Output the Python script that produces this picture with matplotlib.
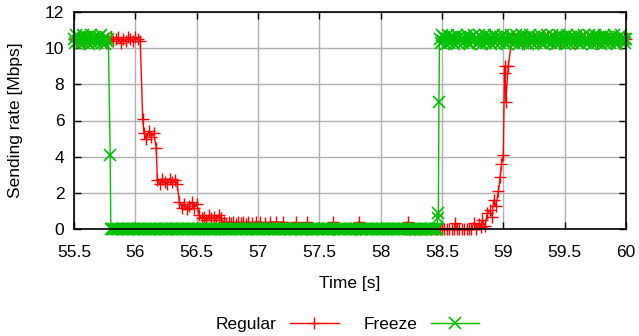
"""Sending rate over time: regular vs freeze."""

import matplotlib as mpl
from matplotlib import pyplot as plt

mpl.use("Agg")

# Regular sender (red)
reg_time = [
    55.50, 55.52, 55.54, 55.56, 55.58, 55.60, 55.62, 55.64, 55.66, 55.68,
    55.70, 55.72, 55.74, 55.76, 55.78, 55.80, 55.82, 55.84, 55.86, 55.88,
    55.90, 55.92, 55.94, 55.96, 55.98, 56.00, 56.02, 56.04,
    56.06, 56.07, 56.09, 56.11, 56.13, 56.15, 56.17,
    56.18, 56.20, 56.22, 56.24, 56.26, 56.28, 56.30, 56.32, 56.34,
    56.36, 56.38, 56.40, 56.42, 56.44, 56.46, 56.48, 56.50,
    56.52, 56.54, 56.56, 56.58, 56.60, 56.62, 56.64, 56.66, 56.68, 56.70,
    56.72, 56.74, 56.76, 56.78, 56.80, 56.82, 56.84, 56.86, 56.88, 56.90,
    56.92, 56.95, 56.98, 57.02, 57.06, 57.10, 57.15, 57.20,
    57.21, 57.30, 57.31, 57.32, 57.39, 57.40, 57.41, 57.60, 57.61, 57.62,
    57.81, 57.82, 57.83, 58.21, 58.22, 58.23,
    58.24, 58.26, 58.28, 58.30, 58.32, 58.34, 58.36, 58.38, 58.40, 58.42,
    58.44, 58.46, 58.48, 58.50, 58.52, 58.54, 58.56, 58.58, 58.60, 58.61,
    58.62, 58.64, 58.66, 58.68, 58.70, 58.72, 58.74, 58.76, 58.78, 58.80,
    58.82, 58.83, 58.85, 58.87, 58.89, 58.91, 58.92, 58.94, 58.96,
    58.975, 58.985, 59.00, 59.01, 59.015, 59.02, 59.04, 59.07,
    59.08, 59.10, 59.12, 59.14, 59.16, 59.18, 59.20, 59.22, 59.24, 59.26,
    59.28, 59.30, 59.32, 59.34, 59.36, 59.38, 59.40, 59.42, 59.44, 59.46,
    59.48, 59.50, 59.52, 59.54, 59.56, 59.58, 59.60, 59.62, 59.64, 59.66,
    59.68, 59.70, 59.72, 59.74, 59.76, 59.78, 59.80, 59.82, 59.84, 59.86,
    59.88, 59.90, 59.92, 59.94, 59.96, 59.98, 60.00,
]
reg_rate = [
    10.5, 10.4, 10.6, 10.5, 10.3, 10.6, 10.5, 10.4, 10.6, 10.5,
    10.4, 10.6, 10.5, 10.3, 10.5, 10.6, 10.4, 10.5, 10.6, 10.3,
    10.5, 10.4, 10.6, 10.5, 10.4, 10.6, 10.5, 10.4,
    6.1, 5.3, 5.0, 5.4, 5.1, 5.3, 4.5,
    2.7, 2.5, 2.8, 2.6, 2.5, 2.8, 2.6, 2.7, 2.5,
    1.5, 1.2, 1.4, 1.1, 1.3, 1.5, 1.2, 1.4,
    0.8, 0.6, 0.7, 0.5, 0.8, 0.6, 0.7, 0.5, 0.8, 0.6,
    0.4, 0.3, 0.4, 0.35, 0.4, 0.3, 0.4, 0.35, 0.4, 0.3,
    0.4, 0.35, 0.4, 0.4, 0.35, 0.4, 0.4, 0.4,
    0.0, 0.0, 0.4, 0.0, 0.0, 0.4, 0.0, 0.0, 0.4, 0.0,
    0.0, 0.4, 0.0, 0.0, 0.4, 0.0,
    0.0, 0.0, 0.0, 0.0, 0.0, 0.0, 0.0, 0.0, 0.0, 0.0,
    0.0, 0.0, 0.0, 0.0, 0.0, 0.0, 0.0, 0.0, 0.0, 0.35,
    0.0, 0.0, 0.0, 0.0, 0.0, 0.0, 0.0, 0.35, 0.0, 0.3,
    0.1, 0.5, 0.2, 0.9, 1.05, 0.7, 1.6, 1.3, 2.1,
    2.9, 3.6, 4.1, 9.0, 8.6, 7.0, 9.0, 10.5,
    10.5, 10.4, 10.6, 10.5, 10.4, 10.6, 10.5, 10.3, 10.6, 10.5,
    10.4, 10.6, 10.5, 10.4, 10.6, 10.5, 10.3, 10.6, 10.5, 10.4,
    10.6, 10.5, 10.4, 10.6, 10.5, 10.3, 10.6, 10.5, 10.4, 10.6,
    10.5, 10.4, 10.6, 10.5, 10.3, 10.6, 10.5, 10.4, 10.6, 10.5,
    10.4, 10.6, 10.5, 10.3, 10.5, 10.6, 10.5,
]

# Freeze sender (green), one sample every 10 ms
frz_time = [
    55.50, 55.51, 55.52, 55.53, 55.54, 55.55, 55.56, 55.57, 55.58, 55.59,
    55.60, 55.61, 55.62, 55.63, 55.64, 55.65, 55.66, 55.67, 55.68, 55.69,
    55.70, 55.71, 55.72, 55.73, 55.74, 55.75, 55.76, 55.77, 55.78, 55.795,
    55.80, 55.81, 55.82, 55.83, 55.84, 55.85, 55.86, 55.87, 55.88, 55.89,
    55.90, 55.91, 55.92, 55.93, 55.94, 55.95, 55.96, 55.97, 55.98, 55.99,
    56.00, 56.01, 56.02, 56.03, 56.04, 56.05, 56.06, 56.07, 56.08, 56.09,
    56.10, 56.11, 56.12, 56.13, 56.14, 56.15, 56.16, 56.17, 56.18, 56.19,
    56.20, 56.21, 56.22, 56.23, 56.24, 56.25, 56.26, 56.27, 56.28, 56.29,
    56.30, 56.31, 56.32, 56.33, 56.34, 56.35, 56.36, 56.37, 56.38, 56.39,
    56.40, 56.41, 56.42, 56.43, 56.44, 56.45, 56.46, 56.47, 56.48, 56.49,
    56.50, 56.51, 56.52, 56.53, 56.54, 56.55, 56.56, 56.57, 56.58, 56.59,
    56.60, 56.61, 56.62, 56.63, 56.64, 56.65, 56.66, 56.67, 56.68, 56.69,
    56.70, 56.71, 56.72, 56.73, 56.74, 56.75, 56.76, 56.77, 56.78, 56.79,
    56.80, 56.81, 56.82, 56.83, 56.84, 56.85, 56.86, 56.87, 56.88, 56.89,
    56.90, 56.91, 56.92, 56.93, 56.94, 56.95, 56.96, 56.97, 56.98, 56.99,
    57.00, 57.01, 57.02, 57.03, 57.04, 57.05, 57.06, 57.07, 57.08, 57.09,
    57.10, 57.11, 57.12, 57.13, 57.14, 57.15, 57.16, 57.17, 57.18, 57.19,
    57.20, 57.21, 57.22, 57.23, 57.24, 57.25, 57.26, 57.27, 57.28, 57.29,
    57.30, 57.31, 57.32, 57.33, 57.34, 57.35, 57.36, 57.37, 57.38, 57.39,
    57.40, 57.41, 57.42, 57.43, 57.44, 57.45, 57.46, 57.47, 57.48, 57.49,
    57.50, 57.51, 57.52, 57.53, 57.54, 57.55, 57.56, 57.57, 57.58, 57.59,
    57.60, 57.61, 57.62, 57.63, 57.64, 57.65, 57.66, 57.67, 57.68, 57.69,
    57.70, 57.71, 57.72, 57.73, 57.74, 57.75, 57.76, 57.77, 57.78, 57.79,
    57.80, 57.81, 57.82, 57.83, 57.84, 57.85, 57.86, 57.87, 57.88, 57.89,
    57.90, 57.91, 57.92, 57.93, 57.94, 57.95, 57.96, 57.97, 57.98, 57.99,
    58.00, 58.01, 58.02, 58.03, 58.04, 58.05, 58.06, 58.07, 58.08, 58.09,
    58.10, 58.11, 58.12, 58.13, 58.14, 58.15, 58.16, 58.17, 58.18, 58.19,
    58.20, 58.21, 58.22, 58.23, 58.24, 58.25, 58.26, 58.27, 58.28, 58.29,
    58.30, 58.31, 58.32, 58.33, 58.34, 58.35, 58.36, 58.37, 58.38, 58.39,
    58.40, 58.41, 58.42, 58.43, 58.44, 58.45, 58.46, 58.465, 58.47, 58.475,
    58.48, 58.49, 58.50, 58.51, 58.52, 58.53, 58.54, 58.55, 58.56, 58.57,
    58.58, 58.59, 58.60, 58.61, 58.62, 58.63, 58.64, 58.65, 58.66, 58.67,
    58.68, 58.69, 58.70, 58.71, 58.72, 58.73, 58.74, 58.75, 58.76, 58.77,
    58.78, 58.79, 58.80, 58.81, 58.82, 58.83, 58.84, 58.85, 58.86, 58.87,
    58.88, 58.89, 58.90, 58.91, 58.92, 58.93, 58.94, 58.95, 58.96, 58.97,
    58.98, 58.99, 59.00, 59.01, 59.02, 59.03, 59.04, 59.05, 59.06, 59.07,
    59.08, 59.09, 59.10, 59.11, 59.12, 59.13, 59.14, 59.15, 59.16, 59.17,
    59.18, 59.19, 59.20, 59.21, 59.22, 59.23, 59.24, 59.25, 59.26, 59.27,
    59.28, 59.29, 59.30, 59.31, 59.32, 59.33, 59.34, 59.35, 59.36, 59.37,
    59.38, 59.39, 59.40, 59.41, 59.42, 59.43, 59.44, 59.45, 59.46, 59.47,
    59.48, 59.49, 59.50, 59.51, 59.52, 59.53, 59.54, 59.55, 59.56, 59.57,
    59.58, 59.59, 59.60, 59.61, 59.62, 59.63, 59.64, 59.65, 59.66, 59.67,
    59.68, 59.69, 59.70, 59.71, 59.72, 59.73, 59.74, 59.75, 59.76, 59.77,
    59.78, 59.79, 59.80, 59.81, 59.82, 59.83, 59.84, 59.85, 59.86, 59.87,
    59.88, 59.89, 59.90, 59.91, 59.92, 59.93, 59.94, 59.95, 59.96, 59.97,
    59.98, 59.99, 60.00,
]
frz_rate = [
    10.5, 10.3, 10.7, 10.4, 10.6, 10.2, 10.5, 10.7, 10.3, 10.6,
    10.4, 10.6, 10.2, 10.5, 10.7, 10.3, 10.6, 10.4, 10.5, 10.3,
    10.6, 10.4, 10.7, 10.3, 10.5, 10.2, 10.6, 10.4, 10.5, 4.1,
    0.0, 0.0, 0.0, 0.0, 0.0, 0.0, 0.0, 0.0, 0.0, 0.0,
    0.0, 0.0, 0.0, 0.0, 0.0, 0.0, 0.0, 0.0, 0.0, 0.0,
    0.0, 0.0, 0.0, 0.0, 0.0, 0.0, 0.0, 0.0, 0.0, 0.0,
    0.0, 0.0, 0.0, 0.0, 0.0, 0.0, 0.0, 0.0, 0.0, 0.0,
    0.0, 0.0, 0.0, 0.0, 0.0, 0.0, 0.0, 0.0, 0.0, 0.0,
    0.0, 0.0, 0.0, 0.0, 0.0, 0.0, 0.0, 0.0, 0.0, 0.0,
    0.0, 0.0, 0.0, 0.0, 0.0, 0.0, 0.0, 0.0, 0.0, 0.0,
    0.0, 0.0, 0.0, 0.0, 0.0, 0.0, 0.0, 0.0, 0.0, 0.0,
    0.0, 0.0, 0.0, 0.0, 0.0, 0.0, 0.0, 0.0, 0.0, 0.0,
    0.0, 0.0, 0.0, 0.0, 0.0, 0.0, 0.0, 0.0, 0.0, 0.0,
    0.0, 0.0, 0.0, 0.0, 0.0, 0.0, 0.0, 0.0, 0.0, 0.0,
    0.0, 0.0, 0.0, 0.0, 0.0, 0.0, 0.0, 0.0, 0.0, 0.0,
    0.0, 0.0, 0.0, 0.0, 0.0, 0.0, 0.0, 0.0, 0.0, 0.0,
    0.0, 0.0, 0.0, 0.0, 0.0, 0.0, 0.0, 0.0, 0.0, 0.0,
    0.0, 0.0, 0.0, 0.0, 0.0, 0.0, 0.0, 0.0, 0.0, 0.0,
    0.0, 0.0, 0.0, 0.0, 0.0, 0.0, 0.0, 0.0, 0.0, 0.0,
    0.0, 0.0, 0.0, 0.0, 0.0, 0.0, 0.0, 0.0, 0.0, 0.0,
    0.0, 0.0, 0.0, 0.0, 0.0, 0.0, 0.0, 0.0, 0.0, 0.0,
    0.0, 0.0, 0.0, 0.0, 0.0, 0.0, 0.0, 0.0, 0.0, 0.0,
    0.0, 0.0, 0.0, 0.0, 0.0, 0.0, 0.0, 0.0, 0.0, 0.0,
    0.0, 0.0, 0.0, 0.0, 0.0, 0.0, 0.0, 0.0, 0.0, 0.0,
    0.0, 0.0, 0.0, 0.0, 0.0, 0.0, 0.0, 0.0, 0.0, 0.0,
    0.0, 0.0, 0.0, 0.0, 0.0, 0.0, 0.0, 0.0, 0.0, 0.0,
    0.0, 0.0, 0.0, 0.0, 0.0, 0.0, 0.0, 0.0, 0.0, 0.0,
    0.0, 0.0, 0.0, 0.0, 0.0, 0.0, 0.0, 0.0, 0.0, 0.0,
    0.0, 0.0, 0.0, 0.0, 0.0, 0.0, 0.0, 0.0, 0.0, 0.0,
    0.0, 0.0, 0.0, 0.0, 0.0, 0.0, 0.0, 0.9, 0.6, 7.0,
    10.5, 10.3, 10.7, 10.4, 10.6, 10.2, 10.5, 10.7, 10.3, 10.6,
    10.4, 10.6, 10.2, 10.5, 10.7, 10.3, 10.6, 10.4, 10.5, 10.3,
    10.6, 10.4, 10.7, 10.3, 10.5, 10.2, 10.6, 10.4, 10.7, 10.5,
    10.5, 10.3, 10.7, 10.4, 10.6, 10.2, 10.5, 10.7, 10.3, 10.6,
    10.4, 10.6, 10.2, 10.5, 10.7, 10.3, 10.6, 10.4, 10.5, 10.3,
    10.6, 10.4, 10.7, 10.3, 10.5, 10.2, 10.6, 10.4, 10.7, 10.5,
    10.5, 10.3, 10.7, 10.4, 10.6, 10.2, 10.5, 10.7, 10.3, 10.6,
    10.4, 10.6, 10.2, 10.5, 10.7, 10.3, 10.6, 10.4, 10.5, 10.3,
    10.6, 10.4, 10.7, 10.3, 10.5, 10.2, 10.6, 10.4, 10.7, 10.5,
    10.5, 10.3, 10.7, 10.4, 10.6, 10.2, 10.5, 10.7, 10.3, 10.6,
    10.4, 10.6, 10.2, 10.5, 10.7, 10.3, 10.6, 10.4, 10.5, 10.3,
    10.6, 10.4, 10.7, 10.3, 10.5, 10.2, 10.6, 10.4, 10.7, 10.5,
    10.5, 10.3, 10.7, 10.4, 10.6, 10.2, 10.5, 10.7, 10.3, 10.6,
    10.4, 10.6, 10.2, 10.5, 10.7, 10.3, 10.6, 10.4, 10.5, 10.3,
    10.6, 10.4, 10.7, 10.3, 10.5, 10.2, 10.6, 10.4, 10.7, 10.5,
    10.5, 10.3, 10.5,
]

x_ticks = [55.5, 56, 56.5, 57, 57.5, 58, 58.5, 59, 59.5, 60]
x_labels = ["55.5", "56", "56.5", "57", "57.5", "58", "58.5", "59", "59.5", "60"]
y_ticks = [0, 2, 4, 6, 8, 10, 12]

plt.rcParams["font.family"] = ["Liberation Sans", "DejaVu Sans"]
plt.rcParams["font.size"] = 12.5

fig = plt.figure(figsize=(6.39, 3.36), dpi=100)
ax = fig.add_axes([74 / 639, 1 - 229.3 / 336, (626 - 74) / 639, (229.3 - 11.7) / 336])

# gnuplot does not clip points at the border, so neither do we
ax.plot(reg_time, reg_rate, color="#ff0000", lw=1, marker="+", ms=8, mew=1,
        label="Regular", clip_on=False)
ax.plot(frz_time, frz_rate, color="#00c000", lw=1, marker="x", ms=8, mew=1.2,
        label="Freeze", clip_on=False)

ax.set_xlim(55.5, 60)
ax.set_ylim(0, 12)
ax.set_xticks(x_ticks)
ax.set_xticklabels(x_labels)
ax.set_yticks(y_ticks)
ax.tick_params(direction="in", top=True, right=True, length=5, width=1,
               labelsize=12.5)
ax.tick_params(axis="y", pad=7)
ax.tick_params(axis="x", pad=11)

ax.grid(True, color="#b0b0b0", lw=1, linestyle="-")
ax.set_axisbelow(True)
for spine in ax.spines.values():
    spine.set_linewidth(1.2)

ax.set_xlabel("Time [s]", fontsize=12.5, labelpad=12)
ax.set_ylabel("Sending rate [Mbps]", fontsize=12.5, labelpad=16)

fig.legend(loc="center", bbox_to_anchor=(0.544, 1 - 324 / 336), ncol=2,
           frameon=False, markerfirst=False, handlelength=2.8,
           handletextpad=0.75, columnspacing=1.45, fontsize=12.5)

fig.savefig("out.png", dpi=100)
